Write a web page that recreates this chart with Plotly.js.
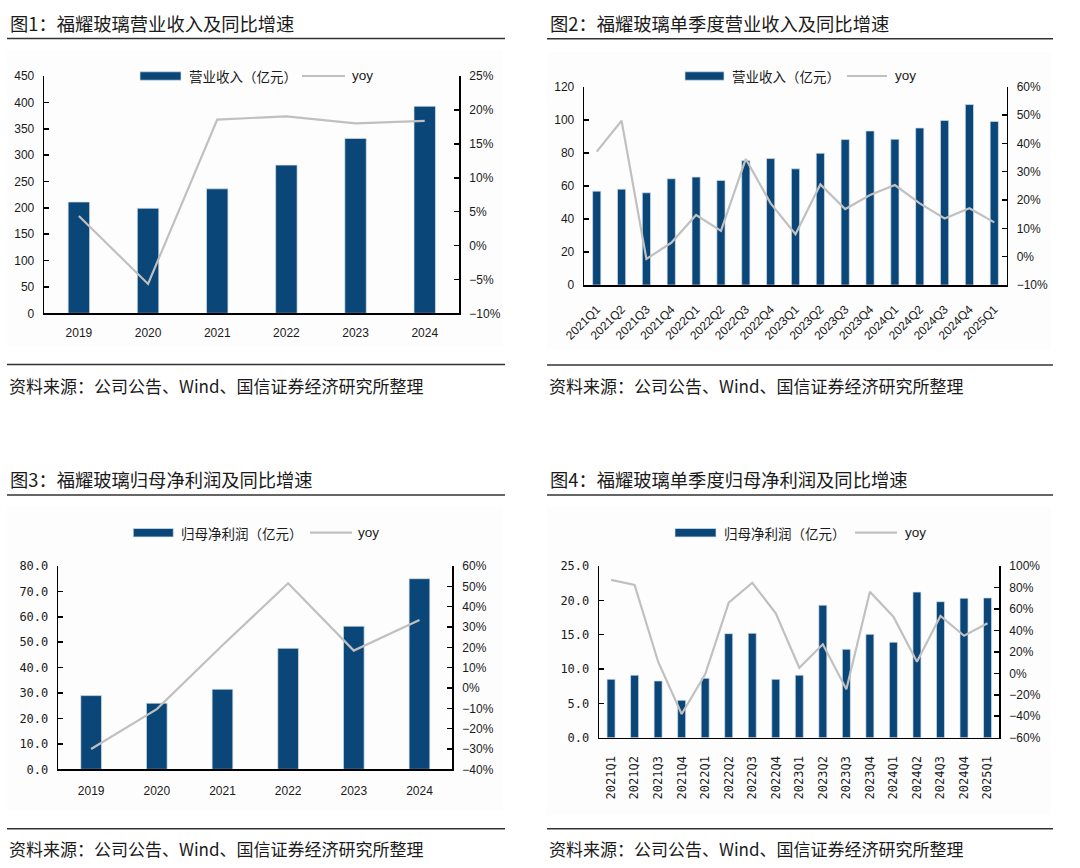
<!DOCTYPE html>
<html>
<head>
<meta charset="utf-8">
<script src="https://cdn.plot.ly/plotly-3.0.1.min.js"></script>
<style>
html,body{margin:0;padding:0;background:#fff;}
#chart{width:1080px;height:868px;}
</style>
</head>
<body>
<div id="chart"></div>
<script>
// ---------- data ----------
const years = ["2019","2020","2021","2022","2023","2024"];
const quarters = ["2021Q1","2021Q2","2021Q3","2021Q4","2022Q1","2022Q2","2022Q3","2022Q4",
  "2023Q1","2023Q2","2023Q3","2023Q4","2024Q1","2024Q2","2024Q3","2024Q4","2025Q1"];

const revenueAnnual = [211.0, 199.1, 236.0, 281.0, 331.6, 392.5];
const revenueAnnualYoy = [0.0434, -0.0567, 0.1857, 0.1905, 0.1802, 0.1837];

const revenueQuarter = [56.8, 58.0, 55.8, 64.3, 65.3, 63.3, 75.3, 76.5, 70.3, 79.7, 88.0, 93.2, 88.2, 95.0, 99.6, 109.2, 99.0];
const revenueQuarterYoy = [0.371, 0.480, -0.008, 0.049, 0.147, 0.091, 0.345, 0.188, 0.079, 0.255, 0.168, 0.218, 0.253, 0.188, 0.135, 0.171, 0.121];

const profitAnnual = [29.0, 26.0, 31.5, 47.6, 56.3, 75.0];
const profitAnnualYoy = [-0.300, -0.104, 0.210, 0.515, 0.184, 0.334];

const profitQuarter = [8.50, 9.10, 8.26, 5.44, 8.65, 15.15, 15.20, 8.50, 9.10, 19.30, 12.87, 15.05, 13.90, 21.20, 19.80, 20.30, 20.35];
const profitQuarterYoy = [0.87, 0.823, 0.108, -0.379, -0.01, 0.658, 0.844, 0.559, 0.052, 0.27, -0.149, 0.76, 0.528, 0.108, 0.534, 0.35, 0.466];

const titles = ["图1：福耀玻璃营业收入及同比增速", "图2：福耀玻璃单季度营业收入及同比增速",
  "图3：福耀玻璃归母净利润及同比增速", "图4：福耀玻璃单季度归母净利润及同比增速"];
const barNames = ["营业收入（亿元）", "营业收入（亿元）", "归母净利润（亿元）", "归母净利润（亿元）"];
const lineName = "yoy";
const sourceText = "资料来源：公司公告、Wind、国信证券经济研究所整理";

// ---------- styles ----------
const W = 1080, H = 868;
const px = x => x / W;
const py = y => 1 - y / H;
const BAR = "#0a4677";
const LINE = "#c0c0c0";
const TXT = "#1a1a1a";
const SANS = "Liberation Sans, Arial, sans-serif";
const MONO = "DejaVu Sans Mono, monospace";
const CJK = "Noto Sans CJK SC, sans-serif";

const panels = [
  {cats: years, bars: revenueAnnual, yoy: revenueAnnualYoy, bw: 0.31,
   dom: [44.3, 459.3, 76, 313.3], y: [0, 450, 50, ""], y2: [-0.10, 0.25, 0.05],
   yfont: SANS, xfont: SANS, xangle: 0, xstand: 8,
   box: [7, 505, 38.5, 364.5], title: 22.5, src: 385, bgTop: 50, bgBot: 346,
   leg: {sw: [140, 181], tx: 187, ln: [302, 345], yoy: 350, y: 76}},
  {cats: quarters, bars: revenueQuarter, yoy: revenueQuarterYoy, bw: 0.33,
   dom: [584.3, 1006.7, 86.7, 285], y: [0, 120, 20, ""], y2: [-0.10, 0.60, 0.10],
   yfont: SANS, xfont: SANS, xangle: -45, xstand: 11,
   box: [547, 1053, 38.7, 365], title: 22.5, src: 385, bgTop: 52, bgBot: 350,
   leg: {sw: [685, 724], tx: 730, ln: [847, 887], yoy: 893, y: 76}},
  {cats: years, bars: profitAnnual, yoy: profitAnnualYoy, bw: 0.315,
   dom: [58.3, 452.3, 566, 769.3], y: [0, 80, 10, ".1f"], y2: [-0.40, 0.60, 0.10],
   yfont: MONO, xfont: SANS, xangle: 0, xstand: 10,
   box: [7, 505, 495, 828.7], title: 478.5, src: 848.3, bgTop: 507, bgBot: 810,
   leg: {sw: [133.3, 173.3], tx: 178.5, ln: [310, 352], yoy: 356, y: 532.7}},
  {cats: quarters, bars: profitQuarter, yoy: profitQuarterYoy, bw: 0.34,
   dom: [599.3, 999.3, 566, 737.7], y: [0, 25, 5, ".1f"], y2: [-0.60, 1.00, 0.20],
   yfont: MONO, xfont: MONO, xangle: -90, xstand: 12,
   box: [547, 1053, 495, 828.7], title: 478.5, src: 848.3, bgTop: 507, bgBot: 815,
   leg: {sw: [675, 716], tx: 721.5, ln: [855, 897], yoy: 902.5, y: 532.7}}
];

const data = [];
const layout = {
  width: W, height: H,
  margin: {l: 0, r: 0, t: 0, b: 0},
  paper_bgcolor: "#ffffff",
  plot_bgcolor: "rgba(0,0,0,0)",
  showlegend: false,
  font: {family: SANS, color: TXT, size: 12},
  shapes: [],
  annotations: []
};

panels.forEach((p, i) => {
  const n = i + 1;
  const xa = "x" + (n === 1 ? "" : n);
  const yaL = 2 * n - 1, yaR = 2 * n;
  const yl = "y" + (yaL === 1 ? "" : yaL);
  const yr = "y" + yaR;

  data.push({
    type: "bar", x: p.cats, y: p.bars, name: barNames[i],
    xaxis: xa, yaxis: yl, width: p.bw,
    marker: {color: BAR, line: {color: "#d6e0ea", width: 0.7}},
    hoverinfo: "x+y"
  });
  data.push({
    type: "scatter", mode: "lines", x: p.cats, y: p.yoy, name: lineName,
    xaxis: xa, yaxis: yr,
    line: {color: LINE, width: 2.2}, hoverinfo: "x+y"
  });

  const axLine = {showline: true, linecolor: "#000", linewidth: 1.6, showgrid: false, zeroline: false};
  layout["xaxis" + (n === 1 ? "" : n)] = Object.assign({}, axLine, {
    domain: [px(p.dom[0]), px(p.dom[1])], anchor: yl, type: "category",
    range: [-0.5, p.cats.length - 0.5], ticks: "", tickangle: p.xangle,
    tickfont: {family: p.xfont, size: 12, color: TXT}, ticklabelstandoff: p.xstand,
    fixedrange: true
  });
  layout["yaxis" + (yaL === 1 ? "" : yaL)] = Object.assign({}, axLine, {
    domain: [py(p.dom[3]), py(p.dom[2])], anchor: xa, range: [p.y[0], p.y[1]],
    dtick: p.y[2], tick0: 0, tickformat: p.y[3], ticks: "inside", ticklen: 5, tickwidth: 1.6,
    tickcolor: "#000", tickfont: {family: p.yfont, size: 12, color: TXT},
    ticklabelstandoff: 6, fixedrange: true
  });
  layout["yaxis" + yaR] = Object.assign({}, axLine, {
    overlaying: yl, side: "right", anchor: xa, range: [p.y2[0], p.y2[1]],
    dtick: p.y2[2], tick0: 0, tickformat: ".0%", ticks: "inside", ticklen: 5, tickwidth: 1.6,
    tickcolor: "#000", tickfont: {family: SANS, size: 12, color: TXT},
    ticklabelstandoff: 6, fixedrange: true
  });

  // faint chart panel
  layout.shapes.push({type: "rect", xref: "paper", yref: "paper", layer: "below",
    x0: px(p.box[0]), x1: px(p.box[1] - 2), y0: py(p.bgBot), y1: py(p.bgTop),
    fillcolor: "#fdfdfd", line: {width: 0}});
  // header & footer rules
  [p.box[2], p.box[3]].forEach(yy => layout.shapes.push({type: "line", xref: "paper", yref: "paper",
    x0: px(p.box[0]), x1: px(p.box[1]), y0: py(yy), y1: py(yy), line: {color: "#333", width: 1.4}}));
  // title
  layout.annotations.push({xref: "paper", yref: "paper", x: px(p.box[0] + 1), y: py(p.title),
    xanchor: "left", yanchor: "middle", showarrow: false, text: titles[i],
    font: {family: CJK, size: 18.3, color: TXT}});
  // source
  layout.annotations.push({xref: "paper", yref: "paper", x: px(p.box[0]), y: py(p.src),
    xanchor: "left", yanchor: "middle", showarrow: false, text: sourceText,
    font: {family: CJK, size: 17, color: TXT}});
  // custom legend
  const L = p.leg;
  layout.shapes.push({type: "rect", xref: "paper", yref: "paper",
    x0: px(L.sw[0]), x1: px(L.sw[1]), y0: py(L.y + 4.2), y1: py(L.y - 4.2),
    fillcolor: BAR, line: {color: "#d6e0ea", width: 0.7}});
  layout.shapes.push({type: "line", xref: "paper", yref: "paper",
    x0: px(L.ln[0]), x1: px(L.ln[1]), y0: py(L.y), y1: py(L.y), line: {color: LINE, width: 2.2}});
  layout.annotations.push({xref: "paper", yref: "paper", x: px(L.tx), y: py(L.y),
    xanchor: "left", yanchor: "middle", showarrow: false, text: barNames[i],
    font: {family: CJK, size: 13.5, color: TXT}});
  layout.annotations.push({xref: "paper", yref: "paper", x: px(L.yoy), y: py(L.y),
    xanchor: "left", yanchor: "middle", showarrow: false, text: lineName,
    font: {family: SANS, size: 13.5, color: TXT}});
});

Plotly.newPlot("chart", data, layout, {displayModeBar: false, staticPlot: true});
</script>
</body>
</html>
